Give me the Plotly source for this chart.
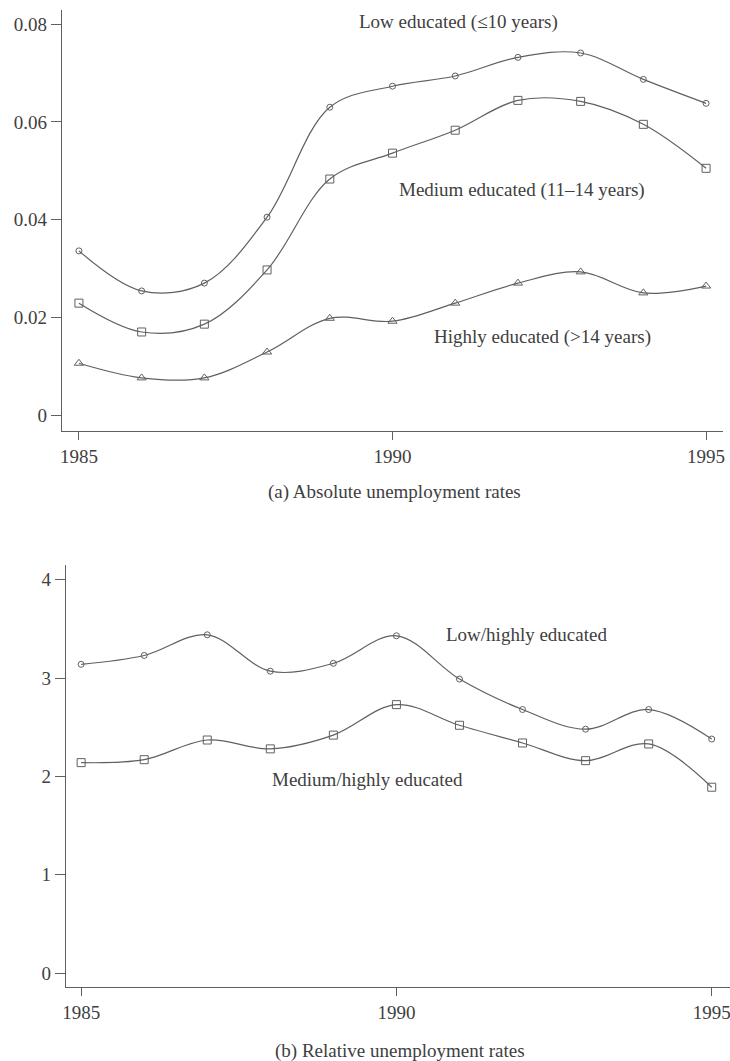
import plotly.graph_objects as go

years = list(range(1985, 1996))
low_edu = [0.0336, 0.0254, 0.0270, 0.0405, 0.0630, 0.0673, 0.0694, 0.0732, 0.0741, 0.0687, 0.0638]
med_edu = [0.0229, 0.0170, 0.0186, 0.0297, 0.0483, 0.0536, 0.0583, 0.0644, 0.0642, 0.0595, 0.0505]
high_edu = [0.0106, 0.0076, 0.0076, 0.0129, 0.0198, 0.0192, 0.0229, 0.0270, 0.0293, 0.0250, 0.0264]
low_high = [3.14, 3.23, 3.44, 3.07, 3.15, 3.43, 2.99, 2.68, 2.48, 2.68, 2.38]
med_high = [2.14, 2.17, 2.37, 2.28, 2.42, 2.73, 2.52, 2.34, 2.16, 2.33, 1.89]
top_yticks = [0, 0.02, 0.04, 0.06, 0.08]
top_yticklabels = ["0", "0.02", "0.04", "0.06", "0.08"]
bot_yticks = [0, 1, 2, 3, 4]
xticks = [1985, 1990, 1995]

W, H = 730, 1061
LINE = "#606060"
TXT = "#404040"
FONT = "Liberation Serif"
FS = 19

fig = go.Figure()

def add(y, sym, size, xa, ya):
    fig.add_trace(go.Scatter(
        x=years, y=y, mode="lines+markers", xaxis=xa, yaxis=ya,
        line=dict(color=LINE, width=1.2, shape="spline", smoothing=1.0),
        marker=dict(symbol=sym, size=size, color=LINE, line=dict(color=LINE, width=1)),
        showlegend=False, hoverinfo="skip", cliponaxis=False))

add(low_edu, "circle-open", 6, "x", "y")
add(med_edu, "square-open", 8, "x", "y")
add(high_edu, "triangle-up-open", 8, "x", "y")
add(low_high, "circle-open", 6, "x2", "y2")
add(med_high, "square-open", 8, "x2", "y2")

axis_common = dict(showgrid=False, zeroline=False, showline=True, linecolor=LINE, linewidth=1.2,
                   ticks="outside", tickcolor=LINE, tickwidth=1, automargin=False,
                   tickfont=dict(family=FONT, size=FS, color=TXT))

fig.update_layout(
    width=W, height=H, margin=dict(l=0, r=0, t=0, b=0, autoexpand=False),
    paper_bgcolor="white", plot_bgcolor="white",
    xaxis=dict(domain=[62 / W, 723 / W], range=[1984.73, 1995.27], anchor="y",
               tickvals=xticks, ticklen=8, ticklabeloverflow="allow", **axis_common),
    yaxis=dict(domain=[1 - 431 / H, 1 - 10 / H], range=[-0.00327, 0.0829], anchor="x",
               tickvals=top_yticks, ticktext=top_yticklabels, ticklen=10, **axis_common),
    xaxis2=dict(domain=[66 / W, 1.0], range=[1984.76, 1995.29], anchor="y2",
                tickvals=xticks, ticklen=8, ticklabeloverflow="allow", **axis_common),
    yaxis2=dict(domain=[1 - 987 / H, 1 - 565 / H], range=[-0.142, 4.15], anchor="x2",
                tickvals=bot_yticks, ticklen=10, **axis_common),
)

def note(text, x, y, size=FS):
    fig.add_annotation(text=text, x=x / W, y=1 - y / H, xref="paper", yref="paper", showarrow=False,
                       font=dict(family=FONT, size=size, color=TXT), xanchor="center", yanchor="middle")

note("Low educated (≤10 years)", 458, 22)
note("Medium educated (11–14 years)", 522, 190)
note("Highly educated (>14 years)", 542, 337)
note("(a) Absolute unemployment rates", 394, 492)
note("Low/highly educated", 526, 634)
note("Medium/highly educated", 367, 779)
note("(b) Relative unemployment rates", 400, 1051)

fig.write_html("out.html", config={"displayModeBar": False},
               post_script="document.body.style.margin='0';document.body.style.overflow='hidden';")
